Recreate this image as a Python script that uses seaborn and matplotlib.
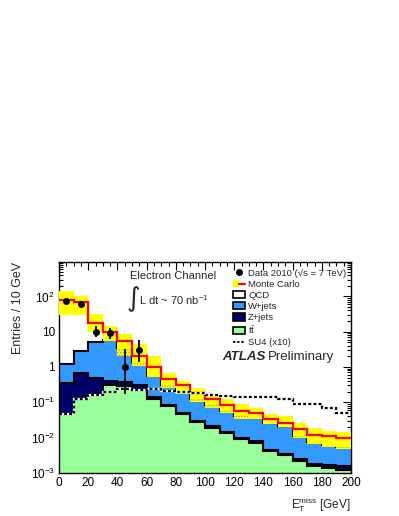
import numpy as np
import matplotlib
matplotlib.use("Agg")
import matplotlib.pyplot as plt
import seaborn as sns
from matplotlib.patches import Patch
from matplotlib.lines import Line2D
from matplotlib.legend_handler import HandlerTuple
from matplotlib.ticker import MultipleLocator, LogLocator, FuncFormatter, NullFormatter

# bins of missing E_T, 10 GeV wide
met_edges = np.arange(0, 210, 10)

# background processes (entries / 10 GeV)
ttbar = [0.045, 0.12, 0.17, 0.31, 0.29, 0.22, 0.127, 0.078, 0.047, 0.028,
         0.019, 0.013, 0.0089, 0.0071, 0.0041, 0.0031, 0.0021, 0.0015, 0.0014, 0.0012]
zjets = [0.315, 0.54, 0.33, 0.09, 0.08, 0.08, 0.010, 0.006, 0.004, 0.002,
         0.0015, 0.001, 0.0007, 0.0006, 0.0004, 0.0003, 0.0004, 0.0003, 0.0003, 0.0003]
wjets = [0.84, 2.14, 4.5, 5.6, 3.13, 1.1, 0.413, 0.216, 0.149, 0.09,
         0.0645, 0.041, 0.0304, 0.0273, 0.0215, 0.0176, 0.0085, 0.0057, 0.0043, 0.0037]
qcd = [80.8, 65.2, 13.0, 4.0, 2.0, 0.7, 0.43, 0.17, 0.10, 0.065,
       0.04, 0.03, 0.015, 0.015, 0.007, 0.005, 0.006, 0.0045, 0.005, 0.0042]

# Monte Carlo uncertainty band
mc_up = [140, 105, 31, 15, 8.5, 4.6, 2.0, 0.69, 0.4, 0.26,
         0.17, 0.127, 0.09, 0.07, 0.047, 0.04, 0.025, 0.019, 0.015, 0.014]
mc_down = [29, 29, 9.5, 5.3, 2.1, 1.07, 0.53, 0.25, 0.17, 0.10,
           0.07, 0.048, 0.034, 0.033, 0.024, 0.02, 0.0099, 0.0064, 0.0052, 0.0047]

# SU4 signal (x10)
su4 = [0.047, 0.12, 0.16, 0.2, 0.23, 0.22, 0.23, 0.21, 0.19, 0.18,
       0.165, 0.15, 0.14, 0.14, 0.14, 0.12, 0.087, 0.087, 0.067, 0.05]

# data 2010
data_x = [5, 15, 25, 35, 45, 55]
data_y = [75, 63, 10, 9, 1, 3]
data_err_lo = [8.6, 7.9, 3.1, 2.9, 0.83, 1.6]
data_err_hi = [9.7, 9.0, 4.3, 4.1, 2.3, 2.9]

c_yellow = '#ffff00'
c_w = '#3399ff'
c_z = '#000066'
c_tt = '#99ff99'

sns.set_style("ticks")
plt.rcParams['font.family'] = ['Liberation Sans', 'DejaVu Sans']
plt.rcParams['mathtext.fontset'] = 'custom'
plt.rcParams['mathtext.rm'] = 'Liberation Sans'
plt.rcParams['mathtext.it'] = 'Liberation Sans:italic'
plt.rcParams['mathtext.bf'] = 'Liberation Sans:bold'
plt.rcParams['hatch.linewidth'] = 0.6

W, H = 399, 516


def px(x, y):
    return x / W, 1 - y / H


fig = plt.figure(figsize=(W / 100, H / 100), dpi=100)
ax = fig.add_axes([59 / W, 1 - 472.7 / H, 292 / W, 210.7 / H])
ax.set_yscale('log')

# stacked backgrounds
top_tt = np.array(ttbar)
top_z = top_tt + np.array(zjets)
top_w = top_z + np.array(wjets)
top_all = top_w + np.array(qcd)

layers = [(top_all, 'white'), (top_w, c_w), (top_z, c_z), (top_tt, c_tt)]
for vals, col in layers:
    ax.stairs(vals, met_edges, baseline=1e-5, fill=True, color=col, lw=0, zorder=1)
for vals, col in layers:
    ax.stairs(vals, met_edges, baseline=None, color='black', lw=1.5, zorder=2)

# uncertainty band, dotted where it lies over the W+jets fill
ax.stairs(mc_up, met_edges, baseline=mc_down, fill=True, color=c_yellow, lw=0, zorder=3)
dot_top = np.maximum(np.minimum(top_w, mc_up), mc_down)
ax.stairs(dot_top, met_edges, baseline=mc_down, fill=True, facecolor='none',
          edgecolor='#9a9a70', hatch='......', lw=0, zorder=3.1)

ax.stairs(top_all, met_edges, baseline=None, color='red', lw=1.6, zorder=4)

# SU4 as black/white dashed line
ax.stairs(su4, met_edges, baseline=None, color='white', lw=1.6, zorder=5)
ax.stairs(su4, met_edges, baseline=None, color='black', lw=1.6, ls=(0, (1.3, 1.0)), zorder=5.1)

ax.errorbar(data_x, data_y, yerr=[data_err_lo, data_err_hi], fmt='o', color='black',
            ms=4, elinewidth=1.3, capsize=0, zorder=6)

ax.set_xlim(0, 200)
ax.set_ylim(1e-3, 950)

ax.xaxis.set_major_locator(MultipleLocator(20))
ax.xaxis.set_minor_locator(MultipleLocator(5))
ax.yaxis.set_major_locator(LogLocator(base=10))
ax.yaxis.set_minor_locator(LogLocator(base=10, subs=np.arange(2, 10)))
ax.yaxis.set_minor_formatter(NullFormatter())


def ylab(v, pos):
    if abs(v - 1) < 1e-9:
        return '1'
    if abs(v - 10) < 1e-9:
        return '10'
    return r'$10^{%d}$' % int(round(np.log10(v)))


ax.yaxis.set_major_formatter(FuncFormatter(ylab))
ax.tick_params(which='both', direction='in', top=True, right=True, colors='black',
               labelsize=8.5, width=0.8)
ax.tick_params(which='major', length=6, pad=3)
ax.tick_params(which='minor', length=3)
for s in ax.spines.values():
    s.set_linewidth(1.0)
    s.set_color('black')

fig.text(*px(18, 262), 'Entries / 10 GeV', rotation=90, ha='center', va='top', fontsize=9)
fig.text(*px(351, 505), r'E$_{\mathrm{T}}^{\mathrm{miss}}$ [GeV]', ha='right', va='center', fontsize=8.5)

fig.text(*px(130, 275.7), 'Electron Channel', ha='left', va='center', fontsize=8)
fig.text(*px(127, 299), '\u222b', ha='left', va='center', fontsize=19, family=['DejaVu Sans'])
fig.text(*px(139, 300), r'L dt ~ 70 nb$^{-1}$', ha='left', va='center', fontsize=8)
fig.text(*px(222, 357), 'ATLAS', ha='left', va='center', fontsize=9.5,
         fontweight='bold', fontstyle='italic')
fig.text(*px(268, 357), 'Preliminary', ha='left', va='center', fontsize=9.5)

handles = [
    Line2D([], [], marker='o', color='black', ls='none', ms=4),
    (Patch(facecolor=c_yellow, edgecolor='none'), Line2D([], [], color='red', lw=1.6)),
    Patch(facecolor='white', edgecolor='black', lw=1.2),
    Patch(facecolor=c_w, edgecolor='black', lw=1.2),
    Patch(facecolor=c_z, edgecolor='black', lw=1.2),
    Patch(facecolor=c_tt, edgecolor='black', lw=1.2),
    Line2D([], [], color='black', lw=1.3, ls=(0, (1.3, 1.0))),
]
labels = ['Data 2010 (\u221as = 7 TeV)', 'Monte Carlo', 'QCD', 'W+jets', 'Z+jets',
          r'$\mathrm{t\bar{t}}$', 'SU4 (x10)']
ax.legend(handles, labels, loc='upper left', bbox_to_anchor=((233 - 59) / 292, 0.968),
          frameon=False, fontsize=6.8, borderpad=0, borderaxespad=0, handlelength=1.3,
          handleheight=0.8, handletextpad=0.3, labelspacing=0.22,
          handler_map={tuple: HandlerTuple(ndivide=None)})

fig.savefig('out.png', dpi=100)
